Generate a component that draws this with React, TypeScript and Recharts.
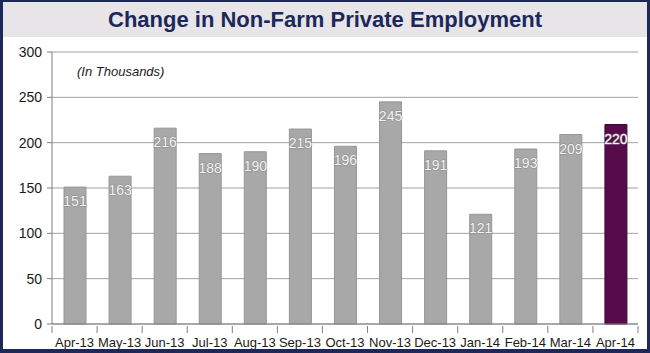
import React from "react";
import { BarChart, Bar, XAxis, YAxis, CartesianGrid, Cell, LabelList } from "recharts";

const months = ["Apr-13", "May-13", "Jun-13", "Jul-13", "Aug-13", "Sep-13", "Oct-13", "Nov-13", "Dec-13", "Jan-14", "Feb-14", "Mar-14", "Apr-14"];
const values = [151, 163, 216, 188, 190, 215, 196, 245, 191, 121, 193, 209, 220];
const yTicks = [0, 50, 100, 150, 200, 250, 300];
const title = "Change in Non-Farm Private Employment";
const subtitle = "(In Thousands)";

const data = months.map((m, i) => ({ month: m, value: values[i] }));

const FONT = "'Liberation Sans', Arial, sans-serif";
const GRID = "#a0a0a0";

const XTick = (props: any) => {
  const { x, y, payload } = props;
  const off = payload && typeof payload.offset === "number" && payload.offset > 0 ? payload.offset : 22.5;
  const lx = x - off;
  return (
    <g>
      <line x1={lx} y1={y - 6} x2={lx} y2={y + 1} stroke="#808080" strokeWidth={1} />
      {payload.index === months.length - 1 ? (
        <line x1={x + off} y1={y - 6} x2={x + off} y2={y + 1} stroke="#808080" strokeWidth={1} />
      ) : null}
      <text x={x} y={y + 10} textAnchor="middle" dominantBaseline="central" fontSize={13} fill="#1a1a1a" fontFamily={FONT}>
        {payload.value}
      </text>
    </g>
  );
};

const BarLabel = (props: any) => {
  const { x, y, width, value } = props;
  return (
    <text
      x={x + width / 2}
      y={y + 14}
      textAnchor="middle"
      dominantBaseline="central"
      fontSize={14}
      fontFamily={FONT}
      fill="#f4f4f4"
      stroke="#8a8a8a"
      strokeWidth={0.9}
      paintOrder="stroke"
    >
      {value}
    </text>
  );
};

export default function App() {
  return (
    <div style={{ position: "absolute", left: 0, top: 0, width: 650, height: 353, background: "#ffffff", overflow: "hidden" }}>
      <div style={{ position: "absolute", left: 0, top: 0, width: 650, height: 37, background: "#e7e5e7" }} />
      <div
        style={{
          position: "absolute",
          left: 0,
          top: 2,
          width: 650,
          height: 36,
          display: "flex",
          alignItems: "center",
          justifyContent: "center",
          fontFamily: FONT,
          fontWeight: "bold",
          fontSize: 22,
          color: "#1c2859",
        }}
      >
        {title}
      </div>
      <div style={{ position: "absolute", left: 0, top: 0 }}>
        <BarChart width={650} height={353} data={data} margin={{ top: 52, right: 12, bottom: 9, left: 12 }}>
          <CartesianGrid vertical={false} stroke={GRID} strokeWidth={1} yAxisId="l" />
          <XAxis dataKey="month" tickLine={false} axisLine={{ stroke: "#808080" }} tick={<XTick />} height={20} interval={0} />
          <YAxis
            yAxisId="l"
            domain={[0, 300]}
            ticks={yTicks}
            width={40}
            tickSize={5}
            tickMargin={5}
            axisLine={{ stroke: "#808080" }}
            tickLine={{ stroke: "#808080" }}
            tick={{ fontSize: 14, fill: "#1a1a1a", fontFamily: FONT }}
            interval={0}
          />
          <YAxis yAxisId="r" orientation="right" domain={[0, 300]} width={0} tick={false} tickLine={false} axisLine={{ stroke: GRID }} />
          <Bar dataKey="value" yAxisId="l" isAnimationActive={false} barSize={22} stroke="#969696" strokeWidth={1}>
            {data.map((d, i) => (
              <Cell key={d.month} fill={i === data.length - 1 ? "#570b4b" : "#a8a8a8"} stroke={i === data.length - 1 ? "#3a0632" : "#969696"} />
            ))}
            <LabelList dataKey="value" content={<BarLabel />} />
          </Bar>
        </BarChart>
      </div>
      <div style={{ position: "absolute", left: 77, top: 64, fontFamily: FONT, fontStyle: "italic", fontSize: 13, color: "#222" }}>{subtitle}</div>
      <div
        style={{
          position: "absolute",
          left: 0,
          top: 0,
          width: 650,
          height: 353,
          boxSizing: "border-box",
          borderLeft: "3px solid #1b2858",
          borderTop: "2px solid #1b2858",
          borderRight: "3px solid #1b2858",
          borderBottom: "4px solid #1b2858",
          pointerEvents: "none",
        }}
      />
    </div>
  );
}
